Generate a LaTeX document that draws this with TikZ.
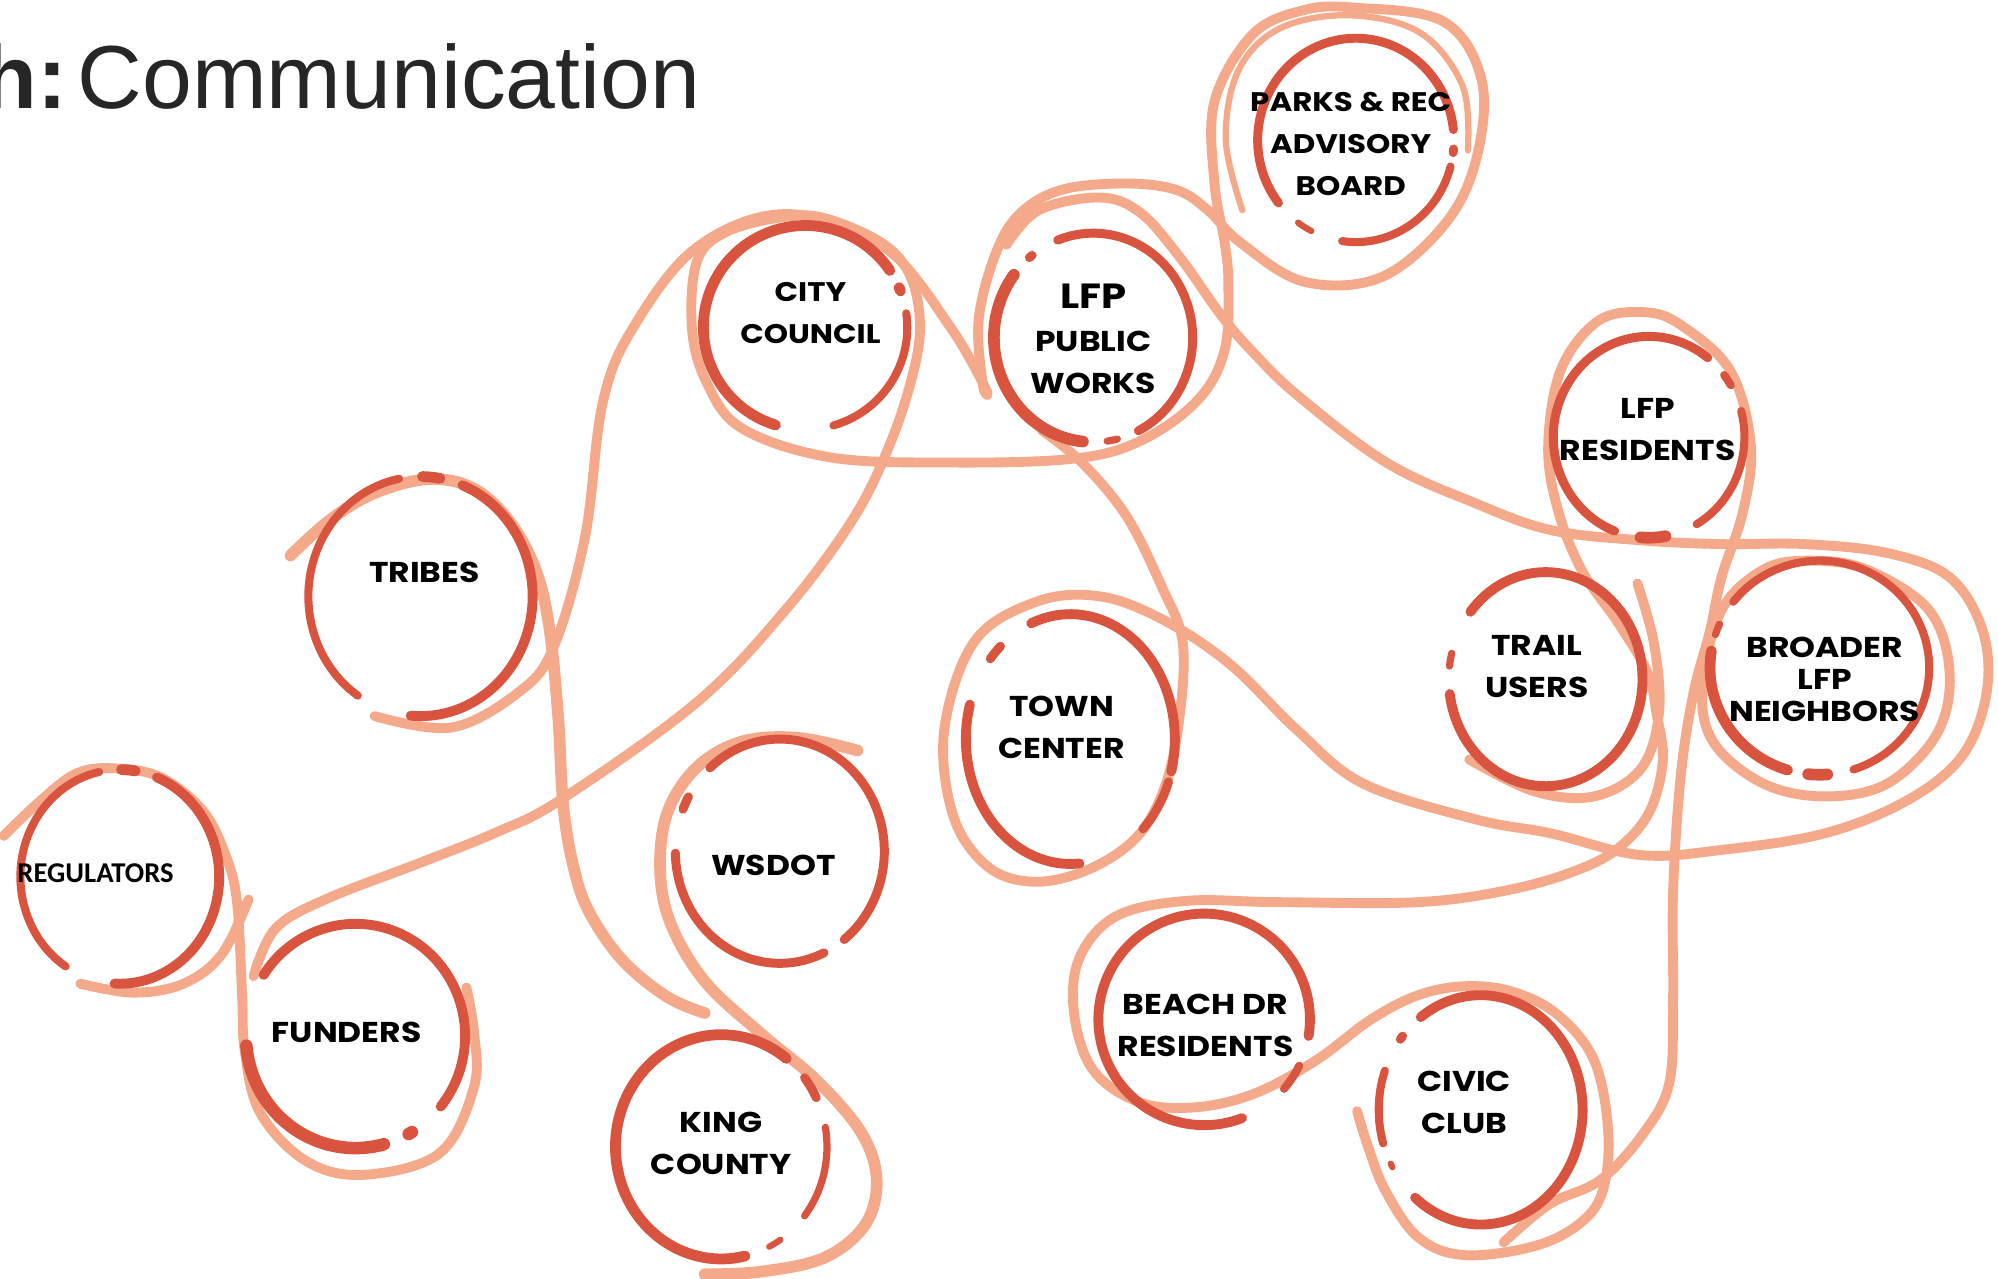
\documentclass[tikz,border=0pt]{standalone}
\usepackage{fontspec}
\setmainfont{Poppins}
\newfontfamily\whofont{Poppins}[FakeStretch=1.15]
\newfontfamily\regfont{Carlito}
\newfontfamily\headfont{Liberation Sans}
\definecolor{ringred}{HTML}{D8543F}
\definecolor{salmon}{HTML}{F5A98B}
\tikzset{
  ring/.style={draw=ringred, line cap=round, line width=4pt},
  thread/.style={draw=salmon, line cap=round, line join=round, line width=5.5pt},
  who/.style={align=center, inner sep=0, text=black, font=\whofont\fontsize{16}{23.5}\selectfont\bfseries}
}
\begin{document}
\begin{tikzpicture}[x=0.025cm, y=-0.025cm]
  \useasboundingbox (0,0) rectangle (1568,1003);
  \clip (0,0) rectangle (1568,1003);
  \fill[white] (0,0) rectangle (1568,1003);

  \node[anchor=base west, inner sep=0, text=black!85, font=\headfont\fontsize{50}{50}\selectfont] (title) at (-14,85) {\textbf{h:}\hspace{6pt}Communication};

  % ring centres
  \coordinate (cc) at (632,257);
  \coordinate (pw) at (858,265);
  \coordinate (pk) at (1064,110);
  \coordinate (lr) at (1294,343);
  \coordinate (tr) at (330,468);
  \coordinate (rg) at (94,688);
  \coordinate (fu) at (279,813);
  \coordinate (ws) at (612,668);
  \coordinate (kc) at (566,900);
  \coordinate (tc) at (840,580);
  \coordinate (tu) at (1213,533);
  \coordinate (bl) at (1428,524);
  \coordinate (bd) at (945,800);
  \coordinate (ci) at (1162,871);

  % threads
  \draw[thread, line width=6.5pt] plot[smooth, tension=0.6] coordinates {(228,436) (259,408) (294,387) (336,376) (371,383) (399,408) (420,446) (431,492) (438,562) (442,632) (450,680) (462,715) (488,753) (523,782) (553,795)};
  \draw[thread] plot[smooth, tension=0.6] coordinates {(294,562) (354,571) (406,544) (434,509) (459,422) (473,316) (497,257) (547,194) (617,168) (694,194) (746,257) (775,308)};
  \draw[thread] plot[smooth, tension=0.6] coordinates {(199,766) (216,729) (255,706) (330,677) (390,653) (441,627) (547,551) (617,478) (669,408) (697,352) (715,299) (722,257) (715,218) (694,192) (650,172) (617,170) (570,182) (547,205) (543,257) (554,299) (582,336) (652,359) (746,363) (842,360) (895,346) (940,314) (961,275) (964,223) (961,190) (953,143) (953,80) (983,27) (1023,8) (1063,6) (1133,17) (1163,64) (1158,127) (1133,177) (1083,218) (1023,221) (973,190) (948,165) (923,149) (883,144) (833,149) (800,168) (781,200) (768,251) (771,300) (775,310)};
  \draw[thread, line width=3.5pt] plot[smooth, tension=0.6] coordinates {(975,165) (962,110) (972,55) (1005,22) (1060,12) (1115,26) (1148,68) (1152,118)};
  \draw[thread] plot[smooth, tension=0.6] coordinates {(790,192) (815,165) (863,155) (895,167) (926,202) (958,247) (982,275) (1018,310) (1088,363) (1158,395) (1217,416) (1287,424) (1351,427) (1416,427) (1481,434) (1530,453) (1556,495) (1559,544) (1540,593) (1497,628) (1432,654) (1351,667) (1287,671) (1217,654) (1158,643) (1070,615) (1018,573) (965,521) (912,486) (863,468) (814,472) (765,503) (741,573) (748,640) (775,680) (812,692) (855,682) (893,656) (915,615) (926,560) (928,503) (912,461) (884,405) (849,363) (818,338)};
  \draw[thread] plot[smooth, tension=0.6] coordinates {(1065,872) (1073,898) (1087,934) (1113,971) (1149,985) (1204,978) (1240,960) (1258,934) (1262,887) (1251,832) (1222,796) (1186,778) (1149,774) (1113,781) (1076,800) (1033,832) (985,858) (938,869) (894,865) (858,840) (843,796) (847,752) (876,719) (931,707) (1003,708) (1113,708) (1186,698) (1240,682) (1272,664) (1295,636) (1305,596) (1300,560) (1293,528) (1270,489) (1241,447) (1222,398) (1215,349) (1225,290) (1254,252) (1290,245) (1319,255) (1358,291) (1374,349) (1368,401) (1351,453) (1342,495) (1329,544) (1319,609) (1313,700) (1313,785) (1310,850) (1290,889) (1256,926) (1216,945) (1180,975)};
  \draw[thread] plot[smooth, tension=0.6] coordinates {(1153,596) (1204,621) (1251,625) (1288,603) (1302,559) (1298,505) (1285,458)};
  \draw[thread] plot[smooth cycle, tension=0.6] coordinates {(1336,540) (1351,479) (1384,447) (1420,440) (1465,447) (1514,479) (1530,528) (1520,576) (1481,615) (1432,625) (1384,615) (1345,583)};
  \draw[thread, line width=6.5pt] plot[smooth, tension=0.6] coordinates {(673,589) (626,579) (582,582) (547,602) (524,637) (518,681) (526,724) (553,770) (597,811) (641,848) (676,889) (688,926) (679,961) (647,987) (597,998) (553,1000)};
  \draw[thread] plot[smooth, tension=0.6] coordinates {(3,656) (30,630) (60,607) (90,603) (126,610) (159,636) (177,671) (186,708) (190,781) (192,824) (204,873) (240,911) (285,922) (345,905) (372,853) (372,810) (366,775)};
  \draw[thread] plot[smooth, tension=0.6] coordinates {(63,772) (105,779) (144,772) (174,749) (195,706)};

  % rings
  \foreach \a/\b/\w in {107/326/6, 337/339/6, 352/434/4.5}
    \draw[ring, line width=\w pt] ([shift={(\a:80 and 80)}]cc) arc[start angle=\a, end angle=\b, x radius=80, y radius=80];
  \foreach \a/\b/\w in {249/423/5, 96/217/6.5, 230/232/5, 76/82/4}
    \draw[ring, line width=\w pt] ([shift={(\a:78 and 82)}]pw) arc[start angle=\a, end angle=\b, x radius=78, y radius=82];
  \foreach \a/\b/\w in {142/354/5, 5/7/5, 15/98/4.5, 117/126/3.5}
    \draw[ring, line width=\w pt] ([shift={(\a:77 and 80)}]pk) arc[start angle=\a, end angle=\b, x radius=77, y radius=80];
  \foreach \a/\b/\w in {111/308/5, 322/329/4.5, 345/420/4.5, 80/95/6.5}
    \draw[ring, line width=\w pt] ([shift={(\a:75 and 79)}]lr) arc[start angle=\a, end angle=\b, x radius=75, y radius=79];
  \foreach \a/\b/\w in {124/259/4.5, 271/280/6, 292/455/5.5}
    \draw[ring, line width=\w pt] ([shift={(\a:88 and 94)}]tr) arc[start angle=\a, end angle=\b, x radius=88, y radius=94];
  \foreach \a/\b/\w in {123/258/4.5, 271/279/6, 292/453/5.5}
    \draw[ring, line width=\w pt] ([shift={(\a:78 and 84)}]rg) arc[start angle=\a, end angle=\b, x radius=78, y radius=84];
  \foreach \a/\b/\w in {213/399/5.5, 59/61/7, 75/175/7}
    \draw[ring, line width=\w pt] ([shift={(\a:86 and 88)}]fu) arc[start angle=\a, end angle=\b, x radius=86, y radius=88];
  \foreach \a/\b/\w in {202/209/5, 228/412/5, 65/179/5}
    \draw[ring, line width=\w pt] ([shift={(\a:82 and 88)}]ws) arc[start angle=\a, end angle=\b, x radius=82, y radius=88];
  \foreach \a/\b/\w in {77/308/6, 56/63/3.5, 322/334/5, 350/398/4}
    \draw[ring, line width=\w pt] ([shift={(\a:83 and 88)}]kc) arc[start angle=\a, end angle=\b, x radius=83, y radius=88];
  \foreach \a/\b/\w in {248/375/5.5, 20/46/5, 85/196/5.5, 220/228/5, 155/157/3}
    \draw[ring, line width=\w pt] ([shift={(\a:82 and 98)}]tc) arc[start angle=\a, end angle=\b, x radius=82, y radius=98];
  \foreach \a/\b/\w in {219/532/5.5, 187/194/4}
    \draw[ring, line width=\w pt] ([shift={(\a:76 and 84)}]tu) arc[start angle=\a, end angle=\b, x radius=76, y radius=84];
  \foreach \a/\b/\w in {218/432/4.5, 86/96/6.5, 107/189/6, 198/204/4}
    \draw[ring, line width=\w pt] ([shift={(\a:86 and 84)}]bl) arc[start angle=\a, end angle=\b, x radius=86, y radius=84];
  \foreach \a/\b/\w in {69/369/5.5, 26/41/4.5}
    \draw[ring, line width=\w pt] ([shift={(\a:83 and 83)}]bd) arc[start angle=\a, end angle=\b, x radius=83, y radius=83];
  \foreach \a/\b/\w in {234/490/5.5, 218/220/5, 163/200/4.5, 150/152/3.5}
    \draw[ring, line width=\w pt] ([shift={(\a:80 and 90)}]ci) arc[start angle=\a, end angle=\b, x radius=80, y radius=90];

  % names
  \node[who, font=\whofont\fontsize{15}{23.5}\selectfont\bfseries] (cc-name) at (636,246) {CITY\\COUNCIL};
  \node[who] (pw-name) at (858,266) {{\fontsize{19.5}{26}\selectfont LFP}\\PUBLIC\\WORKS};
  \node[who, font=\whofont\fontsize{15}{23.5}\selectfont\bfseries] (pk-name) at (1060,113) {PARKS \& REC\\ADVISORY\\BOARD};
  \node[who] (lr-name) at (1293,337) {LFP\\RESIDENTS};
  \node[who] (tr-name) at (333,449) {TRIBES};
  \node[who, font=\regfont\fontsize{16}{20}\selectfont\bfseries] (rg-name) at (75,685) {REGULATORS};
  \node[who] (fu-name) at (272,810) {FUNDERS};
  \node[who] (ws-name) at (607,679) {WSDOT};
  \node[who] (kc-name) at (566,897) {KING\\COUNTY};
  \node[who] (tc-name) at (833,571) {TOWN\\CENTER};
  \node[who] (tu-name) at (1206,523) {TRAIL\\USERS};
  \node[who, font=\whofont\fontsize{16}{18}\selectfont\bfseries] (bl-name) at (1432,533) {BROADER\\LFP\\NEIGHBORS};
  \node[who] (bd-name) at (946,805) {BEACH DR\\RESIDENTS};
  \node[who] (ci-name) at (1149,865) {CIVIC\\CLUB};
\end{tikzpicture}
\end{document}
